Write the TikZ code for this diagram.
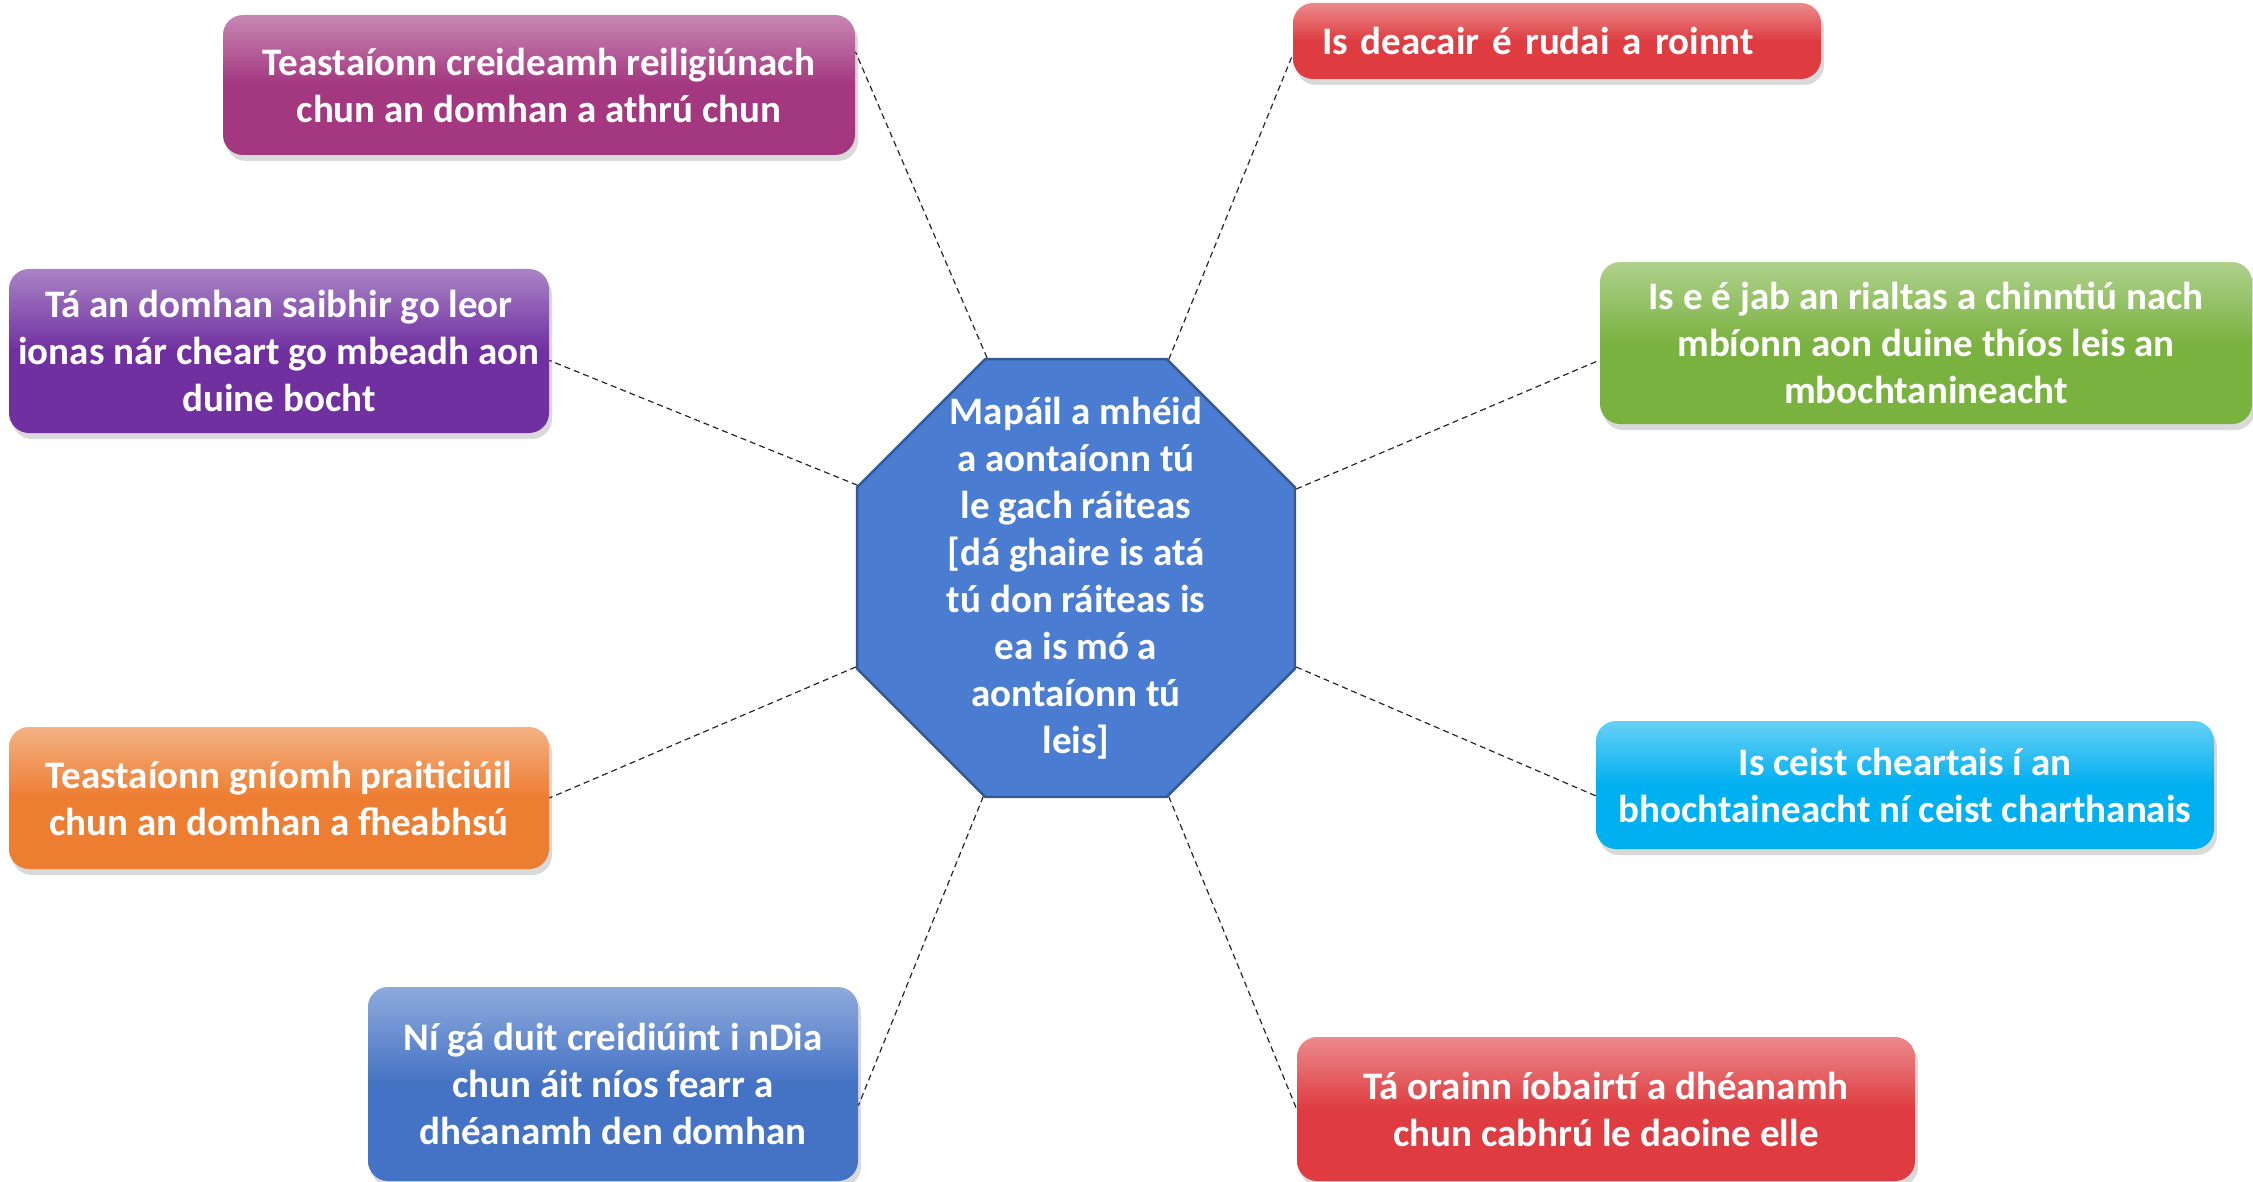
\documentclass[tikz,border=0pt]{standalone}
\usepackage{fontspec}
\setmainfont{Carlito}
\usetikzlibrary{shapes.geometric,shadows}

\definecolor{magbox}{RGB}{163,55,128}
\definecolor{redbox}{RGB}{222,60,64}
\definecolor{purbox}{RGB}{112,48,160}
\definecolor{grnbox}{RGB}{122,178,64}
\definecolor{orgbox}{RGB}{237,125,49}
\definecolor{cynbox}{RGB}{0,176,240}
\definecolor{blubox}{RGB}{68,114,196}
\definecolor{octblue}{RGB}{74,125,210}

\tikzset{
  stmt/.style={rectangle, rounded corners=10pt, text=white,
    font=\bfseries\fontsize{19.5}{23.5}\selectfont, align=center,
    top color=#1!60!white, bottom color=#1, middle color=#1,
    drop shadow={opacity=0.3,shadow xshift=1.5pt,shadow yshift=-3pt},
    inner sep=3pt},
  link/.style={line width=0.6pt, black!85, dash pattern=on 3pt off 2pt},
}

\begin{document}
\begin{tikzpicture}[x=0.5pt,y=-0.5pt]
\useasboundingbox (0,0) rectangle (2253,1182);

% Octagone central
\node[regular polygon, regular polygon sides=8, minimum size=237pt, inner sep=0pt,
      fill=octblue, draw=octblue!70!black, line width=1.2pt] (oct) at (1076,578) {};
\node[text=white, font=\bfseries\fontsize{19.5}{23.5}\selectfont, align=center]
  (octtxt) at (oct.center) {Mapáil a mhéid\\a aontaíonn tú\\le gach ráiteas\\{[}dá ghaire is atá\\tú don ráiteas is\\ea is mó a\\aontaíonn tú\\leis{]}};

% Ráitis
\node[stmt=magbox, minimum width=316pt, minimum height=70pt] (mag) at (539,85)
  {Teastaíonn creideamh reiligiúnach\\chun an domhan a athrú chun};
\node[stmt=redbox, minimum width=264pt, minimum height=38pt, text width=235pt, align=left] (rtop) at (1557,41)
  {Is deacair é rudai a roinnt};
\node[stmt=purbox, minimum width=270pt, minimum height=82pt] (pur) at (279,351)
  {Tá an domhan saibhir go leor\\ionas nár cheart go mbeadh aon\\duine bocht};
\node[stmt=grnbox, minimum width=326pt, minimum height=81pt] (grn) at (1926,343)
  {Is e é jab an rialtas a chinntiú nach\\mbíonn aon duine thíos leis an\\mbochtanineacht};
\node[stmt=orgbox, minimum width=270pt, minimum height=71pt] (org) at (279,798)
  {Teastaíonn gníomh praiticiúil\\chun an domhan a fheabhsú};
\node[stmt=cynbox, minimum width=309pt, minimum height=64pt] (cyn) at (1905,785)
  {Is ceist cheartais í an\\bhochtaineacht ní ceist charthanais};
\node[stmt=blubox, minimum width=245pt, minimum height=97pt] (blu) at (613,1084)
  {Ní gá duit creidiúint i nDia\\chun áit níos fearr a\\dhéanamh den domhan};
\node[stmt=redbox, minimum width=309pt, minimum height=72pt] (rbot) at (1606,1109)
  {Tá orainn íobairtí a dhéanamh\\chun cabhrú le daoine elle};

% Línte
\foreach \a/\b in {oct.112.5/mag.6, oct.67.5/rtop.183, oct.157.5/pur.-2, oct.22.5/grn.183,
                   oct.202.5/org.east, oct.-22.5/cyn.182, oct.247.5/blu.-5, oct.-67.5/rbot.west}
  \draw[link] (\a) -- (\b);
\end{tikzpicture}
\end{document}
